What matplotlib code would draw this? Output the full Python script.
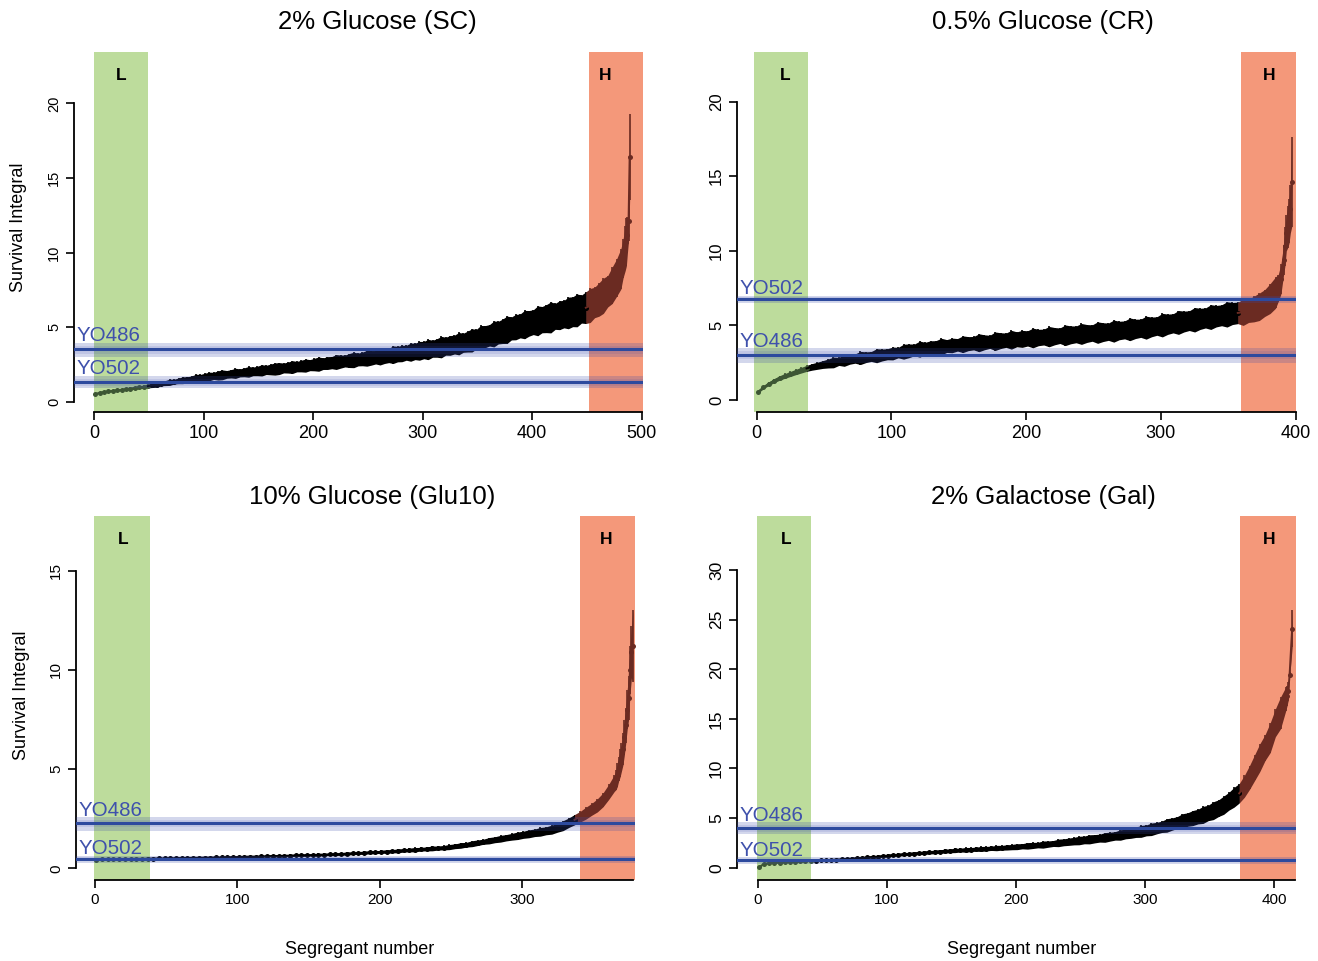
import numpy as np
import matplotlib
matplotlib.use("Agg")
import matplotlib.pyplot as plt
from matplotlib.transforms import blended_transform_factory

plt.rcParams["font.family"] = ["Liberation Sans", "DejaVu Sans"]

STEP = 4  # main series read every 4th segregant, starting at segregant 1

# ---- 2% Glucose (SC) ----
sc_mean = [
    0.52, 0.60, 0.65, 0.69, 0.73, 0.77, 0.80, 0.84, 0.88, 0.92, 0.96, 1.00, 1.05,
    1.10, 1.15, 1.20, 1.25, 1.30, 1.35, 1.40, 1.44, 1.49, 1.53, 1.58, 1.62,
    1.66, 1.69, 1.73, 1.76, 1.80, 1.83, 1.87, 1.90, 1.93, 1.97, 2.00, 2.03,
    2.06, 2.10, 2.13, 2.16, 2.19, 2.22, 2.26, 2.29, 2.32, 2.35, 2.39, 2.42,
    2.45, 2.49, 2.52, 2.55, 2.59, 2.62, 2.66, 2.69, 2.73, 2.76, 2.80, 2.83,
    2.87, 2.91, 2.94, 2.98, 3.02, 3.06, 3.10, 3.15, 3.19, 3.23, 3.28, 3.32,
    3.37, 3.41, 3.46, 3.50, 3.55, 3.60, 3.66, 3.72, 3.77, 3.83, 3.89, 3.95,
    4.03, 4.11, 4.19, 4.28, 4.36, 4.45, 4.54, 4.63, 4.72, 4.82, 4.91, 5.00,
    5.08, 5.17, 5.25, 5.33, 5.42, 5.50, 5.57, 5.65, 5.72, 5.80, 5.87, 5.95,
    6.03, 6.12, 6.21, 6.30, 6.45, 6.65, 6.85, 7.10, 7.40, 7.80, 8.30, 8.90,
]
sc_err = [
    0.04, 0.05, 0.05, 0.06, 0.06, 0.07, 0.07, 0.08, 0.08, 0.09, 0.10, 0.10, 0.12,
    0.15, 0.18, 0.13, 0.17, 0.21, 0.16, 0.19, 0.23, 0.18, 0.20, 0.26, 0.21,
    0.25, 0.29, 0.24, 0.31, 0.33, 0.26, 0.28, 0.34, 0.27, 0.30, 0.36, 0.29,
    0.32, 0.38, 0.31, 0.36, 0.41, 0.40, 0.33, 0.37, 0.43, 0.35, 0.39, 0.44,
    0.37, 0.42, 0.48, 0.39, 0.43, 0.41, 0.50, 0.44, 0.40, 0.47, 0.52, 0.43,
    0.46, 0.53, 0.49, 0.45, 0.56, 0.50, 0.48, 0.59, 0.52, 0.55, 0.50, 0.61,
    0.55, 0.63, 0.58, 0.68, 0.57, 0.62, 0.72, 0.60, 0.66, 0.63, 0.75, 0.64,
    0.70, 0.78, 0.66, 0.83, 0.74, 0.72, 0.87, 0.76, 0.82, 0.92, 0.77, 0.85,
    0.80, 0.95, 0.86, 0.83, 1.00, 0.88, 0.94, 1.04, 0.87, 0.97, 0.92, 1.06,
    1.00, 1.10, 0.94, 1.06, 1.14, 1.02, 1.12, 1.18, 1.05, 1.22, 1.25, 1.35,
]
sc_tail_x = [483, 485, 486, 487, 488, 489]
sc_tail_mean = [9.6, 10.3, 10.7, 11.2, 12.1, 16.4]
sc_tail_err = [1.3, 1.5, 1.6, 1.2, 1.3, 2.9]

# ---- 0.5% Glucose (CR) ----
cr_mean = [
    0.55, 0.85, 1.10, 1.30, 1.48, 1.62, 1.75, 1.88, 2.00, 2.12, 2.22, 2.30, 2.38,
    2.45, 2.52, 2.59, 2.66, 2.73, 2.78, 2.82, 2.87, 2.92, 2.97, 3.02, 3.07,
    3.12, 3.18, 3.24, 3.30, 3.36, 3.41, 3.46, 3.50, 3.54, 3.58, 3.62, 3.66,
    3.70, 3.74, 3.78, 3.81, 3.84, 3.87, 3.90, 3.94, 3.98, 4.01, 4.04, 4.07,
    4.10, 4.13, 4.16, 4.19, 4.22, 4.25, 4.28, 4.31, 4.34, 4.37, 4.40, 4.43,
    4.46, 4.49, 4.52, 4.55, 4.58, 4.62, 4.66, 4.70, 4.74, 4.77, 4.81, 4.85,
    4.90, 4.96, 5.02, 5.08, 5.14, 5.20, 5.26, 5.32, 5.38, 5.44, 5.50, 5.56,
    5.62, 5.68, 5.74, 5.80, 5.84, 5.88, 5.98, 6.10, 6.25, 6.50, 6.80, 7.20,
]
cr_err = [
    0.08, 0.10, 0.12, 0.14, 0.15, 0.16, 0.17, 0.18, 0.19, 0.20, 0.22, 0.24, 0.26,
    0.30, 0.36, 0.27, 0.40, 0.33, 0.31, 0.44, 0.36, 0.33, 0.47, 0.40, 0.37,
    0.43, 0.35, 0.50, 0.46, 0.39, 0.54, 0.41, 0.47, 0.44, 0.56, 0.43, 0.49,
    0.42, 0.56, 0.47, 0.45, 0.60, 0.50, 0.44, 0.62, 0.53, 0.48, 0.63, 0.50,
    0.57, 0.51, 0.66, 0.55, 0.53, 0.68, 0.58, 0.52, 0.69, 0.60, 0.56, 0.70,
    0.60, 0.55, 0.72, 0.63, 0.58, 0.74, 0.62, 0.60, 0.76, 0.65, 0.61, 0.77,
    0.66, 0.62, 0.79, 0.68, 0.64, 0.80, 0.70, 0.66, 0.82, 0.71, 0.67, 0.83,
    0.72, 0.70, 0.85, 0.74, 0.72, 0.88, 0.78, 0.86, 0.92, 0.90, 1.00, 1.05,
]
cr_tail_x = [387, 389, 391, 392, 393, 394, 395, 396, 397]
cr_tail_mean = [7.5, 8.1, 9.4, 10.3, 11.2, 11.6, 12.0, 12.8, 14.6]
cr_tail_err = [0.9, 1.0, 1.0, 1.3, 1.2, 1.4, 1.5, 1.6, 3.0]

# ---- 10% Glucose (Glu10) ----
glu_mean = [
    0.44, 0.45, 0.45, 0.46, 0.46, 0.47, 0.47, 0.48, 0.48, 0.49, 0.49, 0.50, 0.50,
    0.51, 0.51, 0.52, 0.52, 0.53, 0.53, 0.54, 0.54, 0.55, 0.55, 0.56, 0.56,
    0.57, 0.58, 0.59, 0.59, 0.60, 0.61, 0.62, 0.62, 0.63, 0.64, 0.65, 0.66,
    0.66, 0.67, 0.68, 0.69, 0.70, 0.71, 0.72, 0.74, 0.75, 0.77, 0.78, 0.80,
    0.81, 0.83, 0.84, 0.86, 0.88, 0.90, 0.92, 0.94, 0.96, 0.98, 1.00, 1.02,
    1.04, 1.07, 1.11, 1.15, 1.19, 1.24, 1.29, 1.34, 1.39, 1.44, 1.49, 1.54,
    1.59, 1.64, 1.69, 1.74, 1.79, 1.84, 1.89, 1.95, 2.04, 2.15, 2.30, 2.45,
    2.60, 2.78, 2.97, 3.17, 3.45, 3.85, 4.30,
]
glu_err = [
    0.02, 0.02, 0.02, 0.02, 0.03, 0.03, 0.03, 0.03, 0.03, 0.03, 0.03, 0.03, 0.03,
    0.03, 0.04, 0.03, 0.04, 0.03, 0.04, 0.04, 0.03, 0.04, 0.04, 0.04, 0.05,
    0.04, 0.05, 0.04, 0.05, 0.05, 0.04, 0.06, 0.05, 0.05, 0.06, 0.05, 0.06,
    0.06, 0.05, 0.07, 0.06, 0.06, 0.07, 0.06, 0.08, 0.06, 0.07, 0.08, 0.07,
    0.08, 0.07, 0.09, 0.08, 0.10, 0.08, 0.09, 0.11, 0.09, 0.10, 0.12, 0.10,
    0.11, 0.13, 0.12, 0.14, 0.12, 0.15, 0.14, 0.13, 0.16, 0.15, 0.17, 0.16,
    0.17, 0.19, 0.18, 0.20, 0.19, 0.22, 0.20, 0.23, 0.22, 0.25, 0.24, 0.26,
    0.27, 0.30, 0.30, 0.33, 0.35, 0.38, 0.42,
]
glu_tail_x = [366, 367, 368, 369, 370, 371, 372, 373, 374, 375, 376, 377, 378]
glu_tail_mean = [4.45, 4.7, 5.0, 5.3, 5.6, 6.0, 6.6, 7.2, 8.0, 8.6, 10.0, 10.9, 11.2]
glu_tail_err = [0.5, 0.6, 0.6, 0.7, 0.7, 0.8, 0.9, 0.9, 1.0, 1.1, 1.2, 1.3, 1.8]

# ---- 2% Galactose (Gal) ----
gal_mean = [
    0.05, 0.40, 0.45, 0.49, 0.52, 0.55, 0.58, 0.61, 0.63, 0.66, 0.68, 0.71, 0.73,
    0.76, 0.79, 0.82, 0.85, 0.88, 0.92, 0.96, 1.00, 1.04, 1.08, 1.12, 1.17,
    1.22, 1.27, 1.31, 1.35, 1.39, 1.43, 1.47, 1.51, 1.55, 1.59, 1.63, 1.67,
    1.70, 1.74, 1.77, 1.80, 1.83, 1.86, 1.89, 1.92, 1.95, 1.98, 2.01, 2.04,
    2.08, 2.12, 2.16, 2.20, 2.24, 2.28, 2.33, 2.38, 2.44, 2.50, 2.56, 2.62,
    2.68, 2.74, 2.80, 2.86, 2.92, 2.98, 3.05, 3.13, 3.21, 3.30, 3.39, 3.48,
    3.57, 3.66, 3.76, 3.87, 3.99, 4.12, 4.26, 4.40, 4.55, 4.70, 4.85, 5.00,
    5.15, 5.32, 5.52, 5.75, 6.00, 6.30, 6.70, 7.10, 7.50, 8.20, 9.10, 10.10,
    11.10, 12.10, 13.10, 14.60, 15.60, 17.00,
]
gal_err = [
    0.05, 0.04, 0.05, 0.05, 0.06, 0.05, 0.06, 0.06, 0.07, 0.06, 0.07, 0.07, 0.08,
    0.08, 0.09, 0.08, 0.10, 0.09, 0.11, 0.10, 0.12, 0.10, 0.13, 0.11, 0.13,
    0.12, 0.14, 0.13, 0.16, 0.14, 0.17, 0.15, 0.18, 0.16, 0.19, 0.17, 0.20,
    0.19, 0.22, 0.18, 0.24, 0.21, 0.20, 0.25, 0.23, 0.21, 0.27, 0.24, 0.26,
    0.27, 0.30, 0.26, 0.33, 0.31, 0.28, 0.36, 0.32, 0.30, 0.38, 0.35, 0.37,
    0.38, 0.43, 0.39, 0.46, 0.42, 0.40, 0.49, 0.45, 0.43, 0.53, 0.48, 0.52,
    0.52, 0.60, 0.55, 0.63, 0.58, 0.57, 0.68, 0.62, 0.60, 0.74, 0.68, 0.76,
    0.74, 0.86, 0.78, 0.90, 0.84, 0.92, 0.90, 1.00, 0.98, 1.10, 1.20, 1.30,
    1.40, 1.30, 1.50, 1.40, 1.60, 1.20,
]
gal_tail_x = [410, 411, 412, 414]
gal_tail_mean = [17.3, 17.8, 19.4, 24.1]
gal_tail_err = [1.0, 0.9, 0.3, 1.9]

# parent strain reference values: (label, line, band low, band high)
sc_parents = [("YO486", 3.51, 2.98, 3.95), ("YO502", 1.30, 0.90, 1.72)]
cr_parents = [("YO502", 6.79, 6.48, 7.00), ("YO486", 3.02, 2.50, 3.47)]
glu_parents = [("YO486", 2.27, 1.90, 2.57), ("YO502", 0.48, 0.28, 0.64)]
gal_parents = [("YO486", 3.97, 3.37, 4.58), ("YO502", 0.74, 0.37, 1.05)]

titles = ["2% Glucose (SC)", "0.5% Glucose (CR)", "10% Glucose (Glu10)", "2% Galactose (Gal)"]

L_SHADE = "#BDDC9C"
H_SHADE = "#F4987A"
L_DATA = "#3D5634"
H_DATA = "#6B2B22"
BLUE_LINE = "#2D4A9E"
BLUE_BAND = "#3949AB"
BLUE_TEXT = "#3F51AC"

W, H = 1318, 961
fig = plt.figure(figsize=(W / 100, H / 100), dpi=100)


def px_rect(x0, y0, x1, y1):
    return [x0 / W, 1 - y1 / H, (x1 - x0) / W, (y1 - y0) / H]


panels = [
    dict(mean=sc_mean, err=sc_err, tx=sc_tail_x, tm=sc_tail_mean, te=sc_tail_err, parents=sc_parents,
         rect=px_rect(74, 52, 643, 412), xlim=(-18.5, 501.2), ylim=(-0.69, 23.44),
         xb=(0, 500), yb=(0, 20), xt=[0, 100, 200, 300, 400, 500], yt=[0, 5, 10, 15, 20],
         low=(-0.3, 49.4), high=(451.9, 501.2), lx=(25, 467), xfs=13, yfs=10.5),
    dict(mean=cr_mean, err=cr_err, tx=cr_tail_x, tm=cr_tail_mean, te=cr_tail_err, parents=cr_parents,
         rect=px_rect(737, 52, 1296, 412), xlim=(-14.6, 400.2), ylim=(-0.80, 23.32),
         xb=(0, 400), yb=(0, 20), xt=[0, 100, 200, 300, 400], yt=[0, 5, 10, 15, 20],
         low=(-1.8, 38.3), high=(359.4, 400.2), lx=(21.5, 380), xfs=13, yfs=12),
    dict(mean=glu_mean, err=glu_err, tx=glu_tail_x, tm=glu_tail_mean, te=glu_tail_err, parents=glu_parents,
         rect=px_rect(76, 516, 635, 880), xlim=(-13.35, 379.5), ylim=(-0.59, 17.76),
         xb=(0, 378), yb=(0, 15), xt=[0, 100, 200, 300], yt=[0, 5, 10, 15],
         low=(-0.7, 38.4), high=(341, 379.5), lx=(19.5, 359), xfs=11, yfs=11),
    dict(mean=gal_mean, err=gal_err, tx=gal_tail_x, tm=gal_tail_mean, te=gal_tail_err, parents=gal_parents,
         rect=px_rect(737, 516, 1295.5, 880), xlim=(-16.0, 416.6), ylim=(-1.24, 35.45),
         xb=(0, 416), yb=(0, 30), xt=[0, 100, 200, 300, 400], yt=[0, 5, 10, 15, 20, 25, 30],
         low=(-0.8, 41.5), high=(373.8, 416.6), lx=(22, 396), xfs=11, yfs=12.5),
]


def draw_panel(ax, p):
    mean = np.asarray(p["mean"])
    err = np.asarray(p["err"])
    x_main = np.arange(len(mean)) * STEP + 1
    x = np.concatenate([x_main, p["tx"]])
    m = np.concatenate([mean, p["tm"]])
    e = np.concatenate([err, p["te"]])

    # colour of each error bar depends on the tail it sits in
    in_low = x <= p["low"][1]
    in_high = x >= p["high"][0]
    mid = ~in_low & ~in_high
    cols = np.where(in_low, L_DATA, np.where(in_high, H_DATA, "black"))

    ax.vlines(x, m - e, m + e, colors=cols, lw=1.2, zorder=2)
    for mask, c in ((in_low, L_DATA), (mid, "black"), (in_high, H_DATA)):
        idx = np.where(mask)[0]
        if len(idx) == 0:
            continue
        # join each region to the previous one so the band has no gap
        start = idx[0] - 1 if idx[0] > 0 else idx[0]
        seg = slice(start, idx[-1] + 1)
        ax.fill_between(x[seg], (m - e)[seg], (m + e)[seg], color=c, lw=0, zorder=2)
        ax.plot(x[seg], m[seg], "-", color=c, lw=1.4, zorder=2.5)
        ax.plot(x[idx], m[idx], "o", color=c, ms=3.6, mew=0, zorder=2.5)

    # low / high tails
    ax.axvspan(*p["low"], color=L_SHADE, lw=0, zorder=1)
    ax.axvspan(*p["high"], color=H_SHADE, lw=0, zorder=1)
    tr = blended_transform_factory(ax.transData, ax.transAxes)
    ax.text(p["lx"][0], 0.936, "L", transform=tr, ha="center", va="center",
            fontsize=12.5, fontweight="bold", zorder=6)
    ax.text(p["lx"][1], 0.936, "H", transform=tr, ha="center", va="center",
            fontsize=12.5, fontweight="bold", zorder=6)

    # parent strains
    for name, val, lo, hi in p["parents"]:
        ax.axhspan(lo, hi, color=BLUE_BAND, alpha=0.22, lw=0, zorder=4)
        ax.axhspan(val - (val - lo) * 0.55, val + (hi - val) * 0.55, color=BLUE_BAND,
                   alpha=0.12, lw=0, zorder=4)
        ax.axhline(val, color=BLUE_LINE, lw=2.2, zorder=5)
        ax.annotate(name, xy=(0, hi), xycoords=ax.get_yaxis_transform(),
                    xytext=(1.5, 1.2), textcoords="offset points",
                    ha="left", va="baseline", color=BLUE_TEXT, fontsize=14.8, zorder=6)

    ax.set_xlim(*p["xlim"])
    ax.set_ylim(*p["ylim"])
    for side in ("top", "right"):
        ax.spines[side].set_visible(False)
    ax.spines["left"].set_bounds(*p["yb"])
    ax.spines["bottom"].set_bounds(*p["xb"])
    ax.spines["left"].set_linewidth(1.3)
    ax.spines["bottom"].set_linewidth(1.3)
    ax.set_xticks(p["xt"])
    ax.set_yticks(p["yt"])
    ax.tick_params(axis="x", direction="out", length=5.8, width=1.2, pad=3.5, labelsize=p["xfs"])
    ax.tick_params(axis="y", direction="out", length=5.8, width=1.2, pad=3.5, labelsize=p["yfs"])
    plt.setp(ax.get_yticklabels(), rotation=90, va="center")


for p in panels:
    ax = fig.add_axes(p["rect"])
    draw_panel(ax, p)

# titles and axis labels placed in figure pixels
title_pos = [(377.5, 22), (1043, 22), (372, 497), (1043, 497)]
for (tx, ty), t in zip(title_pos, titles):
    fig.text(tx / W, 1 - ty / H, t, ha="center", va="center", fontsize=18.5)

for tx, ty in [(19, 227), (22, 695)]:
    fig.text(tx / W, 1 - ty / H, "Survival Integral", rotation=90, ha="center", va="center", fontsize=13)
for tx, ty in [(360, 949), (1022, 949)]:
    fig.text(tx / W, 1 - ty / H, "Segregant number", ha="center", va="center", fontsize=13)

fig.savefig("out.png", dpi=100)
